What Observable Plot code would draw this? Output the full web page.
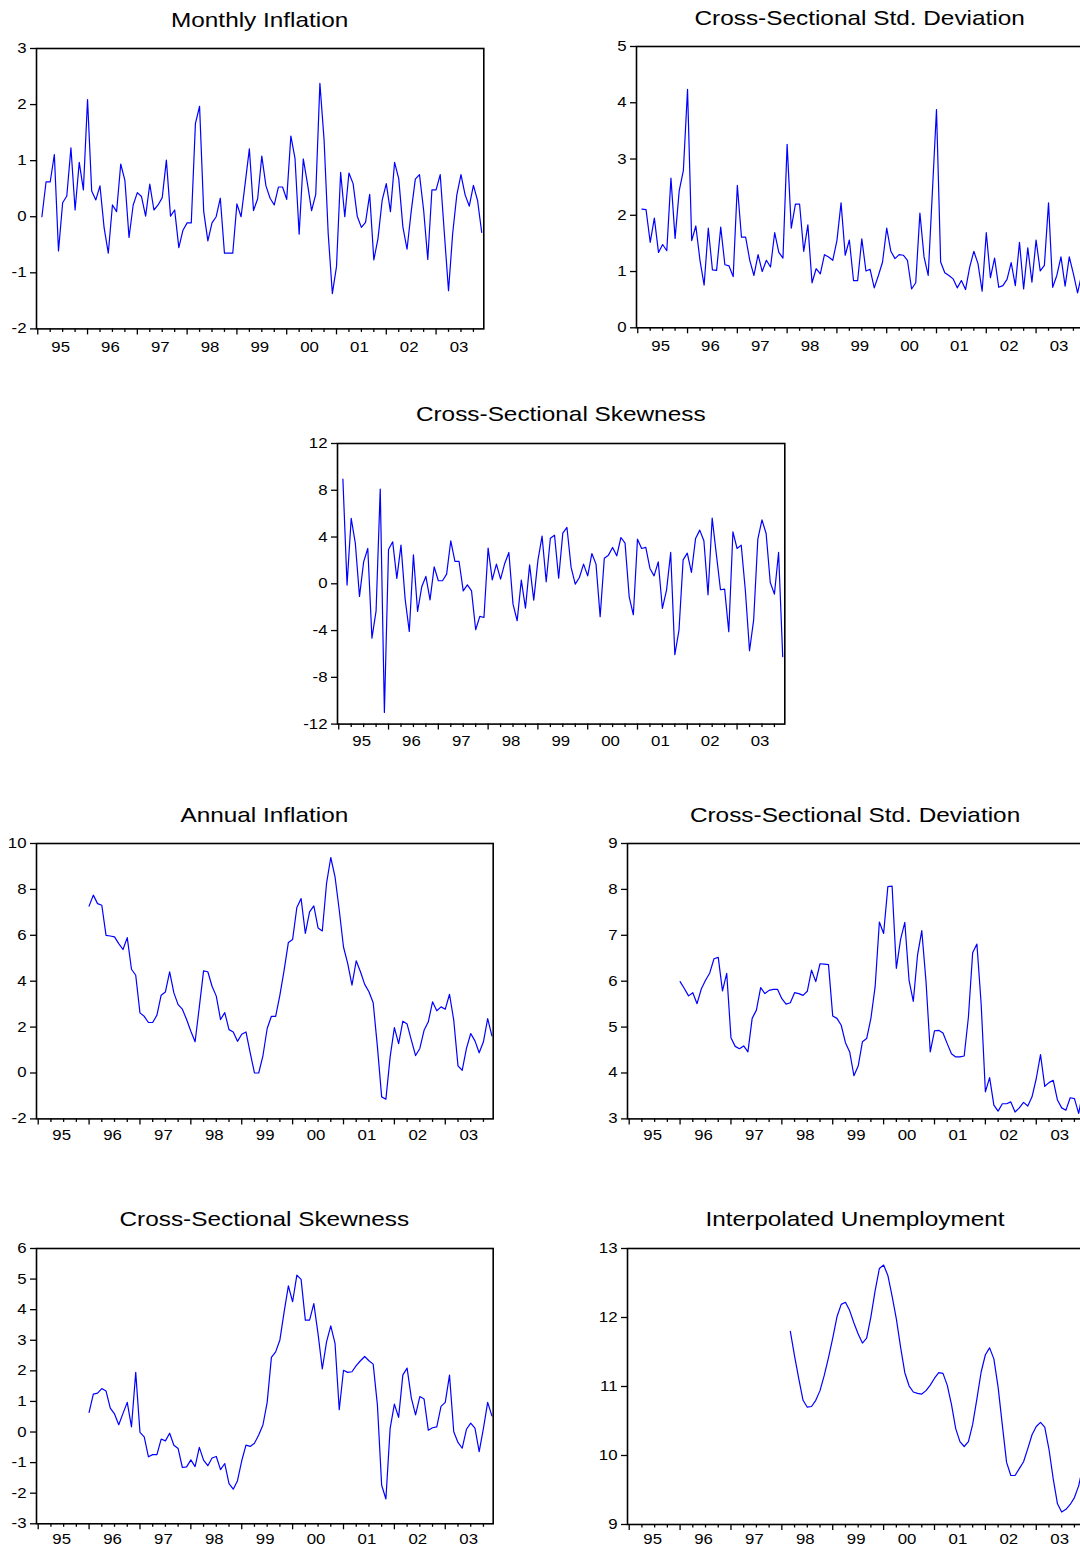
<!DOCTYPE html>
<html>
<head>
<meta charset="utf-8">
<script src="https://cdn.jsdelivr.net/npm/d3@7"></script>
<script src="https://cdn.jsdelivr.net/npm/@observablehq/plot@0.6"></script>
<style>
  html, body { margin: 0; padding: 0; background: #fff; overflow: hidden; }
  #page { position: relative; width: 1080px; height: 1548px; overflow: hidden; background: #fff; }
  #page svg.panel { position: absolute; overflow: visible; max-width: none; }
  #page svg.titles { position: absolute; left: 0; top: 0; pointer-events: none; }
</style>
</head>
<body>
<div id="page"></div>
<script>
// ---------- data (months counted from Jan 1995 = 0) ----------
const yearLabels = ["95", "96", "97", "98", "99", "00", "01", "02", "03"];

const monthlyStart = 1;      // Feb 1995
const annualStart = 12;      // Jan 1996
const unemploymentStart = 38; // Mar 1998

const monthlyInflation = [
  0.00, 0.62, 0.62, 1.11, -0.61, 0.25, 0.37, 1.23, 0.12, 0.97, 0.48, 2.09,
  0.46, 0.30, 0.55, -0.20, -0.65, 0.21, 0.09, 0.94, 0.65, -0.37, 0.21, 0.43,
  0.36, 0.01, 0.58, 0.12, 0.21, 0.34, 1.01, 0.01, 0.12, -0.55, -0.24, -0.11,
  -0.11, 1.66, 1.97, 0.09, -0.43, -0.11, 0.00, 0.33, -0.65, -0.65, -0.65, 0.23,
  0.00, 0.60, 1.21, 0.11, 0.32, 1.08, 0.55, 0.33, 0.21, 0.53, 0.53, 0.31,
  1.44, 1.04, -0.31, 1.03, 0.59, 0.11, 0.40, 2.38, 1.38, -0.30, -1.37, -0.89,
  0.79, 0.00, 0.78, 0.59, 0.01, -0.19, -0.10, 0.40, -0.77, -0.39, 0.29, 0.59,
  0.09, 0.97, 0.68, -0.18, -0.58, 0.09, 0.67, 0.75, 0.12, -0.76, 0.48, 0.48,
  0.75, -0.30, -1.32, -0.30, 0.39, 0.75, 0.39, 0.19, 0.56, 0.29, -0.28
];

const monthlyStdDev = [
  2.11, 2.10, 1.52, 1.95, 1.34, 1.48, 1.37, 2.66, 1.59, 2.44, 2.80, 4.24,
  1.55, 1.81, 1.20, 0.76, 1.77, 1.03, 1.02, 1.79, 1.12, 1.10, 0.91, 2.53,
  1.61, 1.61, 1.20, 0.93, 1.30, 1.00, 1.20, 1.08, 1.69, 1.34, 1.24, 3.26,
  1.77, 2.20, 2.20, 1.36, 1.83, 0.80, 1.05, 0.96, 1.30, 1.26, 1.20, 1.55,
  2.22, 1.29, 1.56, 0.84, 0.84, 1.58, 1.01, 1.04, 0.71, 0.93, 1.17, 1.77,
  1.36, 1.23, 1.30, 1.29, 1.20, 0.69, 0.80, 2.04, 1.26, 0.93, 2.40, 3.88,
  1.17, 0.98, 0.93, 0.87, 0.71, 0.84, 0.68, 1.08, 1.36, 1.14, 0.65, 1.69,
  0.89, 1.24, 0.72, 0.75, 0.86, 1.16, 0.75, 1.52, 0.69, 1.42, 0.81, 1.56,
  1.01, 1.11, 2.22, 0.72, 0.93, 1.26, 0.74, 1.26, 0.96, 0.62, 0.95
];

const monthlySkewness = [
  8.95, -0.11, 5.59, 3.45, -1.08, 1.88, 3.02, -4.65, -2.31, 8.10, -11.0, 2.94,
  3.59, 0.46, 3.31, -1.31, -4.08, 2.48, -2.37, -0.26, 0.63, -1.37, 1.45, 0.26,
  0.26, 0.83, 3.68, 1.91, 1.91, -0.60, -0.09, -0.60, -3.93, -2.79, -2.88, 3.05,
  0.34, 1.68, 0.40, 1.74, 2.68, -1.74, -3.16, 0.31, -2.08, 1.62, -1.40, 2.00,
  4.08, 0.17, 3.90, 4.16, 0.48, 4.33, 4.82, 1.40, -0.03, 0.54, 1.68, 0.68,
  2.59, 1.68, -2.82, 2.19, 2.45, 3.11, 2.39, 3.96, 3.48, -1.11, -2.65, 3.82,
  3.02, 3.11, 1.31, 0.68, 1.88, -2.11, -0.54, 2.68, -6.07, -3.96, 2.05, 2.62,
  0.97, 3.88, 4.59, 3.68, -0.94, 5.62, 2.54, -0.51, -0.46, -4.10, 4.45, 3.02,
  3.31, -0.60, -5.73, -3.08, 3.82, 5.47, 4.30, 0.11, -0.88, 2.68, -6.24
];

const annualInflation = [
  7.27, 7.75, 7.38, 7.31, 6.00, 5.97, 5.93, 5.64, 5.38, 5.90, 4.52, 4.26,
  2.62, 2.47, 2.20, 2.20, 2.52, 3.39, 3.53, 4.41, 3.49, 2.98, 2.78, 2.33,
  1.82, 1.36, 2.88, 4.45, 4.41, 3.78, 3.35, 2.33, 2.63, 1.89, 1.79, 1.38,
  1.69, 1.79, 0.88, 0.00, 0.00, 0.75, 1.94, 2.47, 2.47, 3.39, 4.48, 5.69,
  5.82, 7.21, 7.60, 6.08, 7.02, 7.28, 6.32, 6.19, 8.26, 9.39, 8.55, 7.09,
  5.49, 4.77, 3.83, 4.89, 4.41, 3.86, 3.54, 3.06, 1.14, -1.04, -1.14, 0.70,
  1.98, 1.28, 2.26, 2.13, 1.43, 0.76, 1.07, 1.86, 2.23, 3.10, 2.71, 2.88,
  2.78, 3.43, 2.30, 0.31, 0.12, 1.07, 1.72, 1.40, 0.88, 1.36, 2.37, 1.62
];

const annualStdDev = [
  5.99, 5.84, 5.68, 5.75, 5.51, 5.83, 6.02, 6.18, 6.49, 6.52, 5.79, 6.17,
  4.77, 4.58, 4.53, 4.59, 4.46, 5.19, 5.37, 5.86, 5.73, 5.80, 5.82, 5.82,
  5.62, 5.50, 5.53, 5.75, 5.73, 5.69, 5.78, 6.24, 5.99, 6.38, 6.37, 6.36,
  5.24, 5.19, 5.04, 4.66, 4.46, 3.94, 4.15, 4.68, 4.75, 5.19, 5.88, 7.29,
  7.04, 8.06, 8.07, 6.28, 6.91, 7.28, 6.02, 5.56, 6.57, 7.10, 5.99, 4.46,
  4.92, 4.93, 4.87, 4.64, 4.42, 4.35, 4.35, 4.37, 5.22, 6.62, 6.81, 5.51,
  3.59, 3.90, 3.30, 3.17, 3.33, 3.33, 3.37, 3.15, 3.24, 3.36, 3.28, 3.48,
  3.88, 4.40, 3.71, 3.79, 3.84, 3.41, 3.24, 3.19, 3.46, 3.44, 3.12, 3.60
];

const annualSkewness = [
  0.64, 1.24, 1.27, 1.42, 1.34, 0.78, 0.59, 0.24, 0.61, 0.97, 0.17, 1.95,
  -0.01, -0.16, -0.81, -0.74, -0.74, -0.23, -0.29, -0.04, -0.43, -0.54, -1.16, -1.14,
  -0.91, -1.13, -0.50, -0.92, -1.10, -0.85, -0.80, -1.23, -1.03, -1.69, -1.87, -1.59,
  -0.94, -0.43, -0.47, -0.37, -0.10, 0.23, 0.97, 2.44, 2.62, 3.01, 3.93, 4.78,
  4.26, 5.13, 4.99, 3.66, 3.66, 4.20, 3.21, 2.06, 2.95, 3.47, 2.90, 0.73,
  2.02, 1.95, 1.97, 2.17, 2.33, 2.47, 2.33, 2.22, 0.88, -1.74, -2.19, 0.12,
  0.91, 0.48, 1.87, 2.09, 1.11, 0.56, 1.16, 1.08, 0.06, 0.14, 0.17, 0.84,
  0.97, 1.86, 0.01, -0.34, -0.53, 0.09, 0.29, 0.13, -0.64, 0.12, 0.97, 0.53
];

const unemployment = [
  11.80, 11.44, 11.11, 10.80, 10.70, 10.71, 10.80, 10.94, 11.16, 11.42, 11.70, 12.01,
  12.19, 12.22, 12.10, 11.92, 11.76, 11.63, 11.70, 12.01, 12.39, 12.71, 12.76, 12.61,
  12.31, 11.98, 11.57, 11.20, 11.01, 10.92, 10.90, 10.89, 10.94, 11.02, 11.12, 11.20,
  11.19, 11.02, 10.74, 10.39, 10.20, 10.13, 10.20, 10.45, 10.82, 11.21, 11.46, 11.56,
  11.40, 10.99, 10.44, 9.90, 9.71, 9.71, 9.81, 9.91, 10.10, 10.30, 10.42, 10.48,
  10.41, 10.09, 9.66, 9.30, 9.18, 9.22, 9.29, 9.39, 9.56, 9.85
];

const yTicksMonthlyInfl = [-2, -1, 0, 1, 2, 3];
const yTicksMonthlyStd = [0, 1, 2, 3, 4, 5];
const yTicksMonthlySkew = [-12, -8, -4, 0, 4, 8, 12];
const yTicksAnnualInfl = [-2, 0, 2, 4, 6, 8, 10];
const yTicksAnnualStd = [3, 4, 5, 6, 7, 8, 9];
const yTicksAnnualSkew = [-3, -2, -1, 0, 1, 2, 3, 4, 5, 6];
const yTicksUnemp = [9, 10, 11, 12, 13];

// ---------- layout ----------
const FONT = "'Liberation Sans', Arial, Helvetica, sans-serif";
const domTop = [-0.3, 107.5];
const domBottom = [-0.4, 107.3];

const panels = [
  {title: "Monthly Inflation", values: monthlyInflation, start: monthlyStart, yDomain: [-2, 3], yTicks: yTicksMonthlyInfl, xDomain: domTop, L: 36, R: 483.3, T: 48.3, B: 328.7, pad: 13},
  {title: "Cross-Sectional Std. Deviation", values: monthlyStdDev, start: monthlyStart, yDomain: [0, 5], yTicks: yTicksMonthlyStd, xDomain: domTop, L: 636, R: 1083.3, T: 46, B: 327.3, pad: 13},
  {title: "Cross-Sectional Skewness", values: monthlySkewness, start: monthlyStart, yDomain: [-12, 12], yTicks: yTicksMonthlySkew, xDomain: domTop, L: 337.1, R: 784.4, T: 442.7, B: 723.3, pad: 12},
  {title: "Annual Inflation", values: annualInflation, start: annualStart, yDomain: [-2, 10], yTicks: yTicksAnnualInfl, xDomain: domBottom, L: 36, R: 492.7, T: 843.3, B: 1118.7, pad: 11},
  {title: "Cross-Sectional Std. Deviation", values: annualStdDev, start: annualStart, yDomain: [3, 9], yTicks: yTicksAnnualStd, xDomain: domBottom, L: 626.7, R: 1083.4, T: 843.3, B: 1118.7, pad: 11},
  {title: "Cross-Sectional Skewness", values: annualSkewness, start: annualStart, yDomain: [-3, 6], yTicks: yTicksAnnualSkew, xDomain: domBottom, L: 36, R: 492.7, T: 1247.7, B: 1523, pad: 10},
  {title: "Interpolated Unemployment", values: unemployment, start: unemploymentStart, yDomain: [9, 13], yTicks: yTicksUnemp, xDomain: domBottom, L: 626.7, R: 1083.4, T: 1247.7, B: 1523.7, pad: 10}
];

const majors = d3.range(0, 108, 12);
const minors = d3.range(0, 108, 3).filter(m => m % 12 !== 0);
const mids = yearLabels.map((_, i) => i * 12 + 6);

const page = document.getElementById("page");

function drawPanel(p) {
  const mL = 45, mR = 12, mT = 12, mB = 30;
  const w = p.R - p.L, h = p.B - p.T;
  const rows = p.values.map((v, i) => ({month: p.start + i, value: v}));
  const svg = Plot.plot({
    width: w + mL + mR,
    height: h + mT + mB,
    marginLeft: mL, marginRight: mR, marginTop: mT, marginBottom: mB,
    x: {domain: p.xDomain},
    y: {domain: p.yDomain},
    style: {fontFamily: FONT, fontSize: "14px", color: "#000", background: "transparent", overflow: "visible"},
    marks: [
      Plot.axisY({ticks: p.yTicks, tickSize: 6, tickPadding: 4, tickFormat: d => String(d), label: null, strokeWidth: 1.3}),
      Plot.axisX({ticks: majors, tickSize: 6, tickFormat: () => "", label: null, strokeWidth: 1.3}),
      Plot.axisX({ticks: minors, tickSize: 3.5, tickFormat: () => "", label: null, strokeWidth: 1.3}),
      Plot.axisX({ticks: mids, tickSize: 0, tickPadding: p.pad, tickFormat: m => yearLabels[Math.round((m - 6) / 12)], label: null, dx: -2}),
      Plot.line(rows, {x: "month", y: "value", stroke: "#0000ff", strokeWidth: 1.2}),
      Plot.frame({stroke: "#000", strokeWidth: 1.6})
    ]
  });
  svg.classList.add("panel");
  svg.style.left = (p.L - mL) + "px";
  svg.style.top = (p.T - mT) + "px";
  svg.style.maxWidth = "none";
  // widen tick labels horizontally like the original rendering
  svg.querySelectorAll('g[aria-label$="tick label"] text').forEach(t => {
    const tr = t.getAttribute("transform");
    if (tr && tr.includes("translate")) t.setAttribute("transform", tr + " scale(1.2,1)");
  });
  page.appendChild(svg);
}

panels.forEach(drawPanel);

// titles
const tsvg = d3.select(page).append("svg")
  .attr("class", "titles")
  .attr("width", 1080).attr("height", 1548);
tsvg.selectAll("text").data(panels).join("text")
  .attr("transform", p => `translate(${(p.L + p.R) / 2},${p.T - 21.5}) scale(1.16,1)`)
  .attr("text-anchor", "middle")
  .attr("font-family", FONT)
  .attr("font-size", 21)
  .attr("fill", "#000")
  .text(p => p.title);
</script>
</body>
</html>
